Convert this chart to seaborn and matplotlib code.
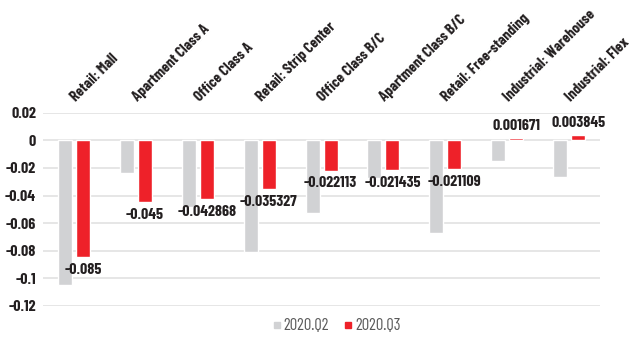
import matplotlib
matplotlib.use("Agg")
import matplotlib.pyplot as plt
from matplotlib.lines import Line2D
from matplotlib.ticker import FuncFormatter
from matplotlib.transforms import ScaledTranslation
import pandas as pd
import seaborn as sns

categories = [
    "Retail: Mall", "Apartment Class A", "Office Class A", "Retail: Strip Center",
    "Office Class B/C", "Apartment Class B/C", "Retail: Free-standing",
    "Industrial: Warehouse", "Industrial: Flex",
]
q2_values = [-0.105, -0.024, -0.048, -0.081, -0.053, -0.0275, -0.0675, -0.0147, -0.0263]
q3_values = [-0.085, -0.045, -0.042868, -0.035327, -0.022113, -0.021435, -0.021109, 0.001671, 0.003845]
series_names = ["2020.Q2", "2020.Q3"]
y_ticks = [0.02, 0, -0.02, -0.04, -0.06, -0.08, -0.1, -0.12]

GRAY = "#D1D2D4"
RED = "#EE2129"
TEXT = "#231F20"

df = pd.DataFrame({
    "category": categories * 2,
    "period": [series_names[0]] * len(categories) + [series_names[1]] * len(categories),
    "value": q2_values + q3_values,
})

sns.set_theme(style="white")
plt.rcParams["font.family"] = ["Barlow Condensed", "DejaVu Sans"]

fig = plt.figure(figsize=(6.33, 3.37), dpi=100)
ax = fig.add_axes([0.068, 0.093, 0.88, 0.572])

sns.barplot(data=df, x="category", y="value", hue="period", order=categories,
            hue_order=series_names, palette=[GRAY, RED], width=0.58, gap=0.22,
            saturation=1, legend=False, ax=ax)

ax.bar_label(ax.containers[1], labels=[f"{v:g}" for v in q3_values], padding=4,
             fontsize=11.5, fontweight="bold", color=TEXT)

ax.set_ylim(-0.12, 0.02)
ax.set_yticks(y_ticks)
ax.yaxis.set_major_formatter(FuncFormatter(lambda v, p: f"{v:g}" if abs(v) > 1e-9 else "0"))
ax.grid(axis="y", color="#E4E4E4", linewidth=1.3)
ax.set_axisbelow(True)
for s in ax.spines.values():
    s.set_visible(False)

ax.set_xlabel("")
ax.set_ylabel("")
ax.xaxis.tick_top()
ax.tick_params(axis="both", length=0, pad=5)
ax.set_xticks(range(len(categories)))
ax.set_xticklabels(categories, rotation=45, ha="left", va="bottom",
                   rotation_mode="anchor", fontsize=11, fontweight="bold", color=TEXT)
shift = ScaledTranslation(4 / 100, 2 / 100, fig.dpi_scale_trans)
for lab in ax.get_xticklabels():
    lab.set_transform(lab.get_transform() + shift)
for lab in ax.get_yticklabels():
    lab.set_fontsize(11.5)
    lab.set_fontweight("bold")
    lab.set_color(TEXT)

handles = [Line2D([], [], marker="s", linestyle="none", markersize=5, color=c)
           for c in (GRAY, RED)]
fig.legend(handles, series_names, loc="center", bbox_to_anchor=(0.532, 0.033), ncol=2,
           frameon=False, fontsize=12, labelcolor="#5A5A5A", handletextpad=0.15,
           columnspacing=0.9, handlelength=0.5)

fig.savefig("out.png", dpi=100)
